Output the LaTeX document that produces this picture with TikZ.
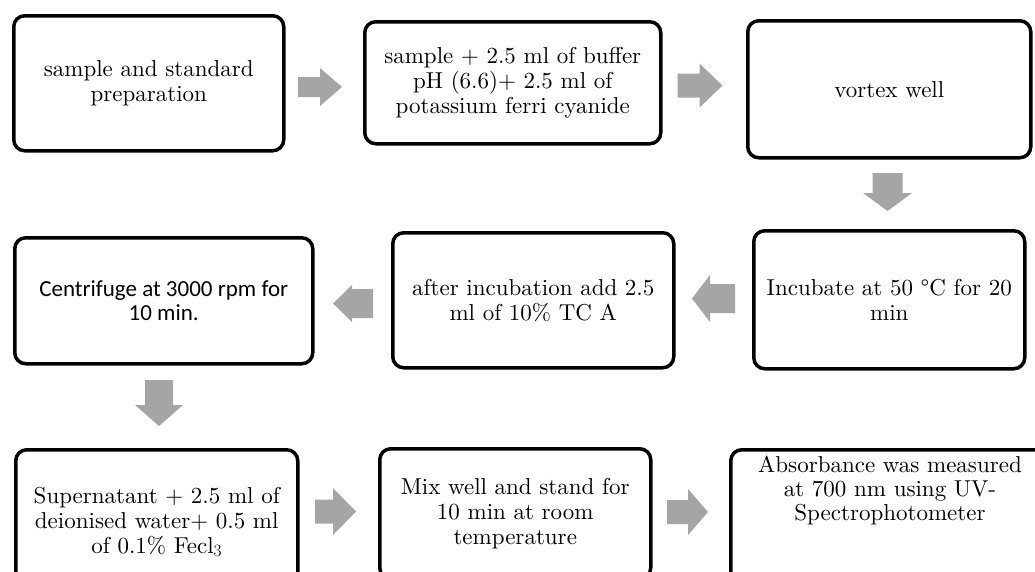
\documentclass[tikz,border=0pt]{standalone}
\usepackage{fontspec}
\setmainfont{lmroman10-regular.otf}
\newfontfamily\calibri{Carlito}
\definecolor{arrowgray}{HTML}{A5A5A5}
\begin{document}
\begin{tikzpicture}[x=1pt,y=-1pt,
  box/.style={draw=black, line width=3.5pt, rounded corners=11pt, fill=white,
    anchor=north west, inner sep=0pt, align=center,
    font=\fontsize{23}{25}\selectfont},
  txt/.style={inner sep=0pt, align=center, font=\fontsize{23}{24}\selectfont},
  pics/blockarrow/.style n args={4}{code={
    \fill[arrowgray] (-#1/2,-#4) -- (#1/2-#2,-#4) -- (#1/2-#2,-#3) -- (#1/2,0)
      -- (#1/2-#2,#3) -- (#1/2-#2,#4) -- (-#1/2,#4) -- cycle;}}]
\useasboundingbox (0,0) rectangle (1035,571);
\clip (0,0) rectangle (1035,571);
% row 1
\node[box, minimum width=270pt, minimum height=135pt] (b1) at (12,14)
  {sample and standard\\preparation};
\node[box, minimum width=296pt, minimum height=122pt] (b2) at (363,20)
  {sample + 2.5 ml of buffer\\pH (6.6)+ 2.5 ml of\\potassium ferri cyanide};
\node[box, minimum width=283pt, minimum height=137pt] (b3) at (746,19)
  {vortex well};
% row 2
\node[box, minimum width=271pt, minimum height=138pt] (b4) at (752,229)
  {Incubate at 50 °C for 20\\min};
\node[box, minimum width=281pt, minimum height=135pt] (b5) at (391,231)
  {after incubation add 2.5\\ml of 10\% TC A};
\node[box, minimum width=298pt, minimum height=126pt,
  font=\calibri\fontsize{23}{24}\selectfont] (b6) at (13,236)
  {Centrifuge at 3000 rpm for\\10 min.};
% row 3
\node[box, minimum width=282pt, minimum height=144pt] (b7) at (14,448)
  {Supernatant + 2.5 ml of\\deionised water+ 0.5 ml\\of 0.1\% Fecl$_3$};
\node[box, minimum width=271pt, minimum height=130pt] (b8) at (378,447)
  {Mix well and stand for\\10 min at room\\temperature};
\node[box, minimum width=323pt, minimum height=150pt] (b9) at (729,448) {};
\node[txt] (t9) at (890,490)
  {Absorbance was measured\\at 700 nm using UV-\\Spectrophotometer};
% block arrows
\pic at (320,87) {blockarrow={44}{22}{19}{10}};
\pic at (700,85.5) {blockarrow={45}{23}{22}{12}};
\pic[rotate=-90] at (887.5,192) {blockarrow={38}{18}{24.5}{15}};
\pic[rotate=180] at (713.5,298.5) {blockarrow={43}{18}{23.5}{14.5}};
\pic[rotate=180] at (353,303.5) {blockarrow={40}{19}{18.5}{14.5}};
\pic[rotate=-90] at (159,403) {blockarrow={46}{21}{24}{14}};
\pic at (335.5,511.5) {blockarrow={41}{23}{23.5}{12}};
\pic at (687.5,512) {blockarrow={41}{20}{23}{12}};
\end{tikzpicture}
\end{document}
